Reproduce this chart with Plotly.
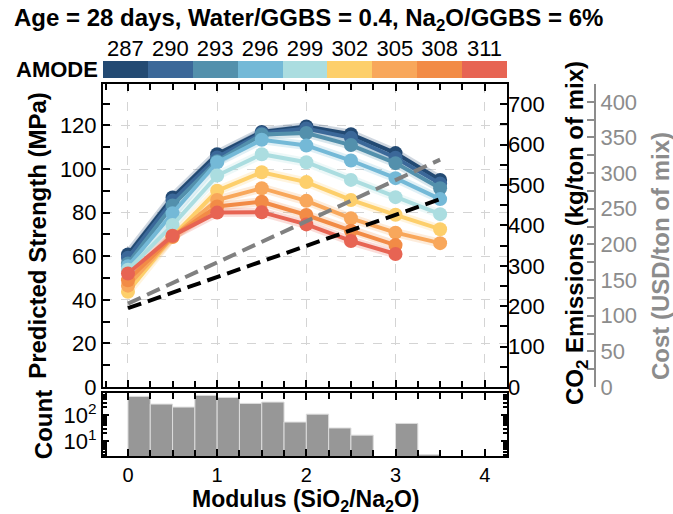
import plotly.graph_objects as go

# ---------------- data ----------------
title_text = "Age = 28 days, Water/GGBS = 0.4, Na<sub>2</sub>O/GGBS = 6%"
amode = [287, 290, 293, 296, 299, 302, 305, 308, 311]
amode_colors = ["#234a73", "#3b6899", "#5390ac", "#74b9d7", "#abdde0",
                "#fdcf6b", "#f8a75b", "#f28b46", "#e76453"]

modulus = [0.0, 0.5, 1.0, 1.5, 2.0, 2.5, 3.0, 3.5]

strength_287 = [60.8, 86.9, 106.8, 117.0, 119.5, 116.0, 107.3, 95.0]
strength_290 = [59.3, 85.5, 105.3, 116.4, 118.6, 114.3, 105.2, 93.3]
strength_293 = [56.7, 83.3, 103.6, 115.8, 116.5, 111.0, 102.7, 91.2]
strength_296 = [55.4, 79.7, 103.1, 113.4, 110.8, 103.9, 95.8, 86.2]
strength_299 = [53.8, 74.3, 97.0, 106.8, 103.1, 95.0, 87.1, 79.3]
strength_302 = [43.7, 69.0, 90.0, 98.5, 94.0, 85.8, 79.0, 72.4]
strength_305 = [46.5, 68.8, 85.8, 91.2, 85.4, 77.4, 70.8, 66.0]
strength_308 = [49.0, 69.0, 82.8, 85.0, 78.9, 71.7, 65.1]
strength_311 = [52.1, 69.4, 80.0, 80.2, 74.6, 67.0, 61.0]
strength_series = [strength_287, strength_290, strength_293, strength_296, strength_299,
                   strength_302, strength_305, strength_308, strength_311]

co2_emissions = [195, 234, 272, 311, 349, 388, 426, 465]   # kg/ton of mix
cost_usd = [117, 146, 175, 204, 232, 261, 290, 319]         # USD/ton of mix

hist_bin_centers = [0.125, 0.375, 0.625, 0.875, 1.125, 1.375, 1.625, 1.875,
                    2.125, 2.375, 2.625, 2.875, 3.125, 3.375]
hist_counts = [525, 265, 203, 573, 480, 282, 316, 54, 109, 32, 17, 0, 48, 3]
count_major_ticks = [10, 100]
count_major_labels = ["10<sup>1</sup>", "10<sup>2</sup>"]
count_minor_ticks = [3, 4, 5, 6, 7, 8, 9, 20, 30, 40, 50, 60, 70, 80, 90,
                     200, 300, 400, 500, 600, 700]

# ---------------- layout helpers (pixel -> paper) ----------------
W, H = 673, 514
ML, MR, MT, MB = 103, 40, 55, 58
PW, PH = W - ML - MR, H - MT - MB


def px(xp):
    return (xp - ML) / PW


def py(yp):
    return (H - MB - yp) / PH


FONT = "Liberation Sans, Arial, sans-serif"
GRAY = "#8c8c8c"
XR = [-0.28, 4.25]
XDOM = [0, px(507)]
TICK_SIZE = 22
TITLE_SIZE = 24

fig = go.Figure()

# translucent halos + lines
for vals, col in zip(strength_series, amode_colors):
    r, g, b = int(col[1:3], 16), int(col[3:5], 16), int(col[5:7], 16)
    fig.add_trace(go.Scatter(x=modulus[:len(vals)], y=vals, mode="lines",
                             line=dict(color=f"rgba({r},{g},{b},0.22)", width=9),
                             xaxis="x2", yaxis="y2", showlegend=False, hoverinfo="skip"))
for vals, col, a in zip(strength_series, amode_colors, amode):
    fig.add_trace(go.Scatter(x=modulus[:len(vals)], y=vals, mode="lines+markers",
                             line=dict(color=col, width=4),
                             marker=dict(color=col, size=14),
                             name=str(a), xaxis="x2", yaxis="y2", showlegend=False))

fig.add_trace(go.Scatter(x=modulus, y=cost_usd, mode="lines",
                         line=dict(color="#808080", width=4, dash="14px,7px"),
                         xaxis="x2", yaxis="y4", showlegend=False))
fig.add_trace(go.Scatter(x=modulus, y=co2_emissions, mode="lines",
                         line=dict(color="black", width=4, dash="14px,7px"),
                         xaxis="x2", yaxis="y3", showlegend=False))

# histogram
fig.add_trace(go.Bar(x=hist_bin_centers, y=[c if c > 0 else None for c in hist_counts],
                     width=0.25, marker=dict(color="#979797", line=dict(color="#dcdcdc", width=1)),
                     xaxis="x", yaxis="y", showlegend=False))

# discrete colour bar
n = len(amode)
cs = []
for i, c in enumerate(amode_colors):
    cs.append([i / n, c])
    cs.append([(i + 1) / n, c])
fig.add_trace(go.Heatmap(z=[list(range(n))], x=list(range(n)), y=[0],
                         colorscale=cs, zmin=-0.5, zmax=n - 0.5, showscale=False,
                         xaxis="x3", yaxis="y5", hoverinfo="skip"))

tickfont = dict(family=FONT, size=TICK_SIZE, color="black")
common_x = dict(range=XR, domain=XDOM, showline=True, linewidth=2, linecolor="black",
                mirror="ticks", ticks="inside", ticklen=7, tickwidth=2, tickcolor="black",
                dtick=1, tick0=0, zeroline=False, automargin=False,
                minor=dict(dtick=0.25, ticks="inside", ticklen=6, tickwidth=2, tickcolor="black"))

fig.update_layout(
    width=W, height=H, margin=dict(l=ML, r=MR, t=MT, b=MB),
    paper_bgcolor="white", plot_bgcolor="white",
    font=dict(family=FONT, size=TICK_SIZE, color="black"),
    title=dict(text=f"<b>{title_text}</b>", x=14 / W, xanchor="left", xref="container",
               y=1 - 18 / H, yanchor="middle", yref="container",
               font=dict(family=FONT, size=TITLE_SIZE, color="black")),
    xaxis=dict(**common_x, anchor="y", tickfont=dict(family=FONT, size=20, color="black"),
               showgrid=False),
    yaxis=dict(domain=[0, py(393)], type="log", range=[0.43, 2.85], anchor="x",
               showline=True, linewidth=2, linecolor="black", mirror="ticks",
               ticks="inside", ticklen=6, tickwidth=2, tickcolor="black",
               tickmode="array", tickvals=count_major_ticks, ticktext=count_major_labels,
               minor=dict(tickmode="array", tickvals=count_minor_ticks, ticks="inside",
                          ticklen=4, tickwidth=2, tickcolor="black", showgrid=False),
               tickfont=tickfont, showgrid=False, automargin=False,
               title=dict(text="<b>Count</b>", font=dict(family=FONT, size=TITLE_SIZE), standoff=4)),
    xaxis2=dict(**common_x, anchor="y2", showticklabels=False,
                showgrid=True, gridcolor="#d4d4d4", griddash="dash", gridwidth=1),
    yaxis2=dict(domain=[py(387), py(84)], range=[0, 139], anchor="x2",
                showline=True, linewidth=2, linecolor="black", mirror=True,
                ticks="inside", ticklen=7, tickwidth=2, tickcolor="black",
                dtick=20, tick0=0, tickfont=tickfont, zeroline=False,
                minor=dict(dtick=10, ticks="inside", ticklen=7, tickwidth=2, tickcolor="black"),
                showgrid=True, gridcolor="#d4d4d4", griddash="dash", gridwidth=1,
                automargin=False,
                title=dict(text="<b>Predicted Strength (MPa)</b>",
                           font=dict(family=FONT, size=TITLE_SIZE), standoff=6)),
    yaxis3=dict(overlaying="y2", side="right", anchor="x2", range=[0, 750],
                showline=False, ticks="inside", ticklen=7, tickwidth=2, tickcolor="black",
                dtick=100, tick0=0, tickfont=tickfont, showgrid=False, zeroline=False,
                minor=dict(dtick=50, ticks="inside", ticklen=7, tickwidth=2, tickcolor="black"),
                automargin=False),
    yaxis4=dict(overlaying="y2", side="right", anchor="free", position=px(595), range=[0, 425],
                showline=True, linewidth=2, linecolor=GRAY,
                ticks="inside", ticklen=7, tickwidth=2, tickcolor=GRAY,
                dtick=50, tick0=0, tickfont=dict(family=FONT, size=TICK_SIZE, color=GRAY),
                minor=dict(dtick=25, ticks="inside", ticklen=7, tickwidth=2, tickcolor=GRAY),
                showgrid=False, zeroline=False, automargin=False),
    xaxis3=dict(domain=XDOM, anchor="y5", side="top", range=[-0.5, n - 0.5],
                tickvals=list(range(n)), ticktext=[str(a) for a in amode],
                ticks="", showline=False, showgrid=False, zeroline=False,
                tickfont=tickfont, automargin=False),
    yaxis5=dict(domain=[py(78), py(61)], anchor="x3", range=[-0.5, 0.5],
                showticklabels=False, ticks="", showline=False, showgrid=False,
                zeroline=False, automargin=False),
    annotations=[
        dict(text="<b>AMODE</b>", xref="paper", yref="paper", x=px(100), y=py(69.5),
             xanchor="right", yanchor="middle", showarrow=False,
             font=dict(family=FONT, size=TICK_SIZE, color="black")),
        dict(text="<b>Modulus (SiO<sub>2</sub>/Na<sub>2</sub>O)</b>", xref="paper", yref="paper",
             x=px(305), y=py(500), xanchor="center", yanchor="middle", showarrow=False,
             font=dict(family=FONT, size=23, color="black")),
        dict(text="<b>CO<sub>2</sub> Emissions (kg/ton of mix)</b>", xref="paper", yref="paper",
             x=px(576), y=py(233), textangle=-90, xanchor="center", yanchor="middle",
             showarrow=False, font=dict(family=FONT, size=TITLE_SIZE, color="black")),
        dict(text="<b>Cost (USD/ton of mix)</b>", xref="paper", yref="paper",
             x=px(660), y=py(256), textangle=-90, xanchor="center", yanchor="middle",
             showarrow=False, font=dict(family=FONT, size=TITLE_SIZE, color=GRAY)),
    ],
)

fig.write_html("out.html")
